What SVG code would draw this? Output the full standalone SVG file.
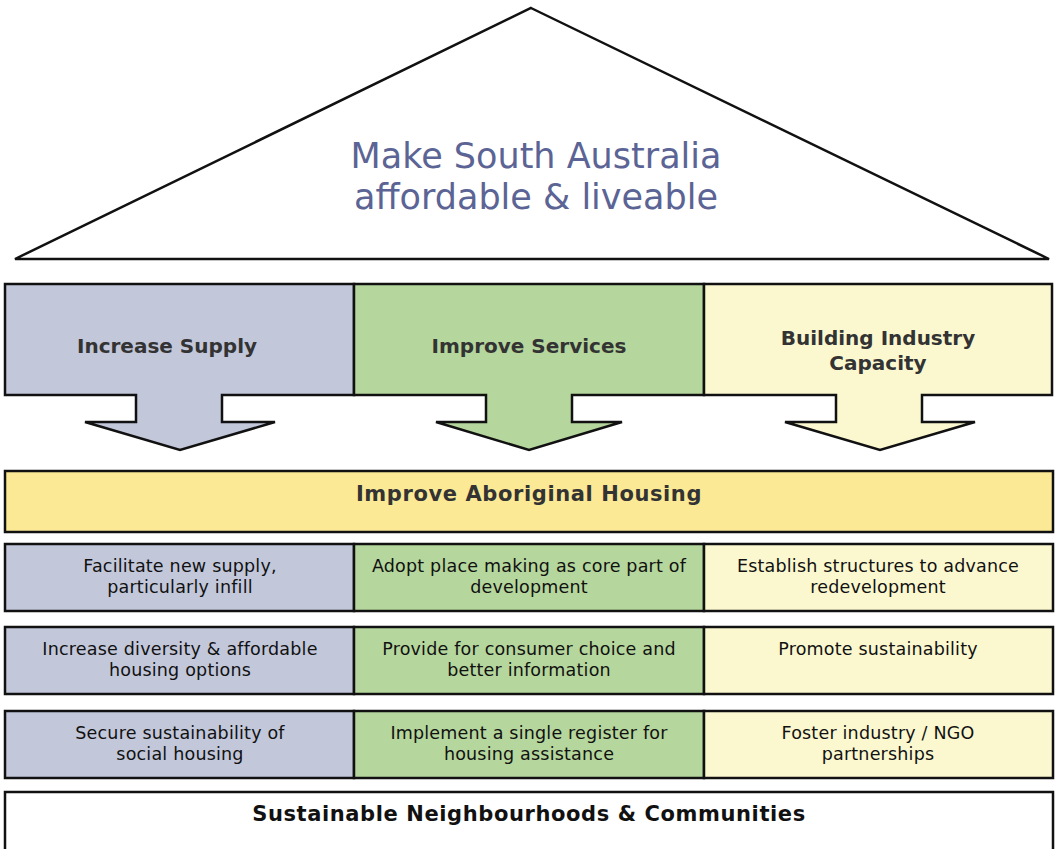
<svg xmlns="http://www.w3.org/2000/svg" width="1056" height="849" viewBox="0 0 1056 849">
<style>
.s{stroke:#111;stroke-width:2.5;stroke-linejoin:miter}
.b{fill:#c2c7da}.g{fill:#b5d69c}.y{fill:#fbf8d0}.yy{fill:#fbe995}
text{font-family:"DejaVu Sans","Verdana",sans-serif;text-anchor:middle}
.h{font-weight:bold;font-size:20px;fill:#333}
.h2{font-weight:bold;font-size:21px;fill:#333;letter-spacing:0.6px}
.t{font-size:17.5px;fill:#111;letter-spacing:0.2px}
.ti{font-size:35px;fill:#5b6494}
</style>
<rect width="1056" height="849" fill="#fff"/>
<g id="roof">
<polygon class="s" fill="#fff" points="531,8 1049,259 15,259"/>
<text class="ti" x="536" y="168">Make South Australia</text>
<text class="ti" x="536" y="209">affordable &amp; liveable</text>
</g>
<g id="increase-supply">
<path class="s b" d="M5,284 H354 V395 H222 V422 H275 L180,450 L85,422 H136 V395 H5 Z"/>
<text class="h" x="167" y="353">Increase Supply</text>
</g>
<g id="improve-services">
<path class="s g" d="M354,284 H704 V395 H572 V422 H622 L529,450 L436,422 H486 V395 H354 Z"/>
<text class="h" x="529" y="353">Improve Services</text>
</g>
<g id="building-industry">
<path class="s y" d="M704,284 H1052 V395 H922 V422 H975 L880,450 L785,422 H836 V395 H704 Z"/>
<text class="h" x="878" y="345">Building Industry</text>
<text class="h" x="878" y="370">Capacity</text>
</g>
<g id="aboriginal">
<rect class="s yy" x="5" y="471" width="1048" height="61"/>
<text class="h2" x="529" y="501">Improve Aboriginal Housing</text>
</g>
<g id="row1">
<rect class="s b" x="5" y="544" width="349" height="67"/>
<rect class="s g" x="354" y="544" width="350" height="67"/>
<rect class="s y" x="704" y="544" width="349" height="67"/>
<text class="t" x="180" y="572">Facilitate new supply,</text>
<text class="t" x="180" y="593">particularly infill</text>
<text class="t" x="529" y="572">Adopt place making as core part of</text>
<text class="t" x="529" y="593">development</text>
<text class="t" x="878" y="572">Establish structures to advance</text>
<text class="t" x="878" y="593">redevelopment</text>
</g>
<g id="row2">
<rect class="s b" x="5" y="627" width="349" height="67"/>
<rect class="s g" x="354" y="627" width="350" height="67"/>
<rect class="s y" x="704" y="627" width="349" height="67"/>
<text class="t" x="180" y="655">Increase diversity &amp; affordable</text>
<text class="t" x="180" y="676">housing options</text>
<text class="t" x="529" y="655">Provide for consumer choice and</text>
<text class="t" x="529" y="676">better information</text>
<text class="t" x="878" y="655">Promote sustainability</text>
</g>
<g id="row3">
<rect class="s b" x="5" y="711" width="349" height="67"/>
<rect class="s g" x="354" y="711" width="350" height="67"/>
<rect class="s y" x="704" y="711" width="349" height="67"/>
<text class="t" x="180" y="739">Secure sustainability of</text>
<text class="t" x="180" y="760">social housing</text>
<text class="t" x="529" y="739">Implement a single register for</text>
<text class="t" x="529" y="760">housing assistance</text>
<text class="t" x="878" y="739">Foster industry / NGO</text>
<text class="t" x="878" y="760">partnerships</text>
</g>
<g id="sustainable">
<rect class="s" fill="#fff" x="5" y="792" width="1048" height="70"/>
<text class="h2" x="529" y="821" style="fill:#111">Sustainable Neighbourhoods &amp; Communities</text>
</g>
</svg>
